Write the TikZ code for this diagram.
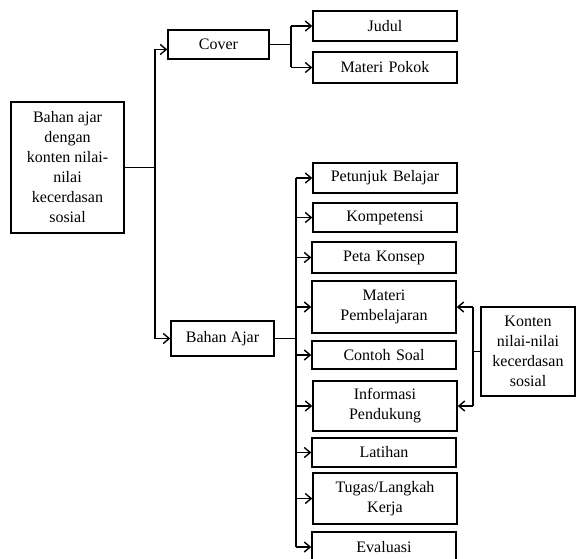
\documentclass[tikz,border=0pt]{standalone}
\usepackage{fontspec}
\setmainfont{Liberation Serif}
\usetikzlibrary{arrows.meta}
\tikzset{
  box/.style={draw, line width=1.4pt, align=center, inner sep=2pt,
    font=\fontsize{16}{20}\selectfont},
  item/.style={box, minimum width=144pt, text width=136pt},
  wire/.style={line width=1.4pt},
  link/.style={wire, -{Straight Barb[length=6pt,width=10pt]}},
}

\begin{document}
\begin{tikzpicture}[x=1pt,y=-1pt]
  \useasboundingbox (0,0) rectangle (576,559);
  % left part
  \node[box, minimum width=113pt, minimum height=131pt] (bahan) at (67.5,167.5)
    {Bahan ajar\\dengan\\konten nilai-\\nilai\\kecerdasan\\sosial};
  \node[box, minimum width=101pt, minimum height=29pt] (cover) at (218.5,44.5) {Cover};
  \node[box, minimum width=103pt, minimum height=35pt] (ajar) at (222.5,338.5) {Bahan Ajar};
  % cover part
  \node[item, minimum height=30pt] (judul) at (385,26) {Judul};
  \node[item, minimum height=31pt] (pokok) at (385,67.5) {Materi Pokok};
  % bahan ajar part
  \node[item, minimum height=30pt] (petunjuk) at (385,178) {Petunjuk Belajar};
  \node[item, minimum height=29pt] (kompetensi) at (385,217.5) {Kompetensi};
  \node[item, minimum height=31pt] (peta) at (384,257.5) {Peta Konsep};
  \node[item, minimum height=52pt] (materi) at (384,307) {Materi\\Pembelajaran};
  \node[item, minimum height=28pt] (contoh) at (384,355) {Contoh Soal};
  \node[item, minimum height=50pt] (info) at (385,406) {Informasi\\Pendukung};
  \node[item, minimum height=29pt] (latihan) at (384,452.5) {Latihan};
  \node[item, minimum height=51pt] (tugas) at (385,498.5) {Tugas/Langkah\\Kerja};
  \node[item, minimum height=30pt] (evaluasi) at (384,547) {Evaluasi};
  \node[box, minimum width=94pt, minimum height=89pt] (konten) at (528,351.5)
    {Konten\\nilai-nilai\\kecerdasan\\sosial};

  \coordinate (s1) at (155,0);
  \coordinate (s2) at (291,0);
  \coordinate (s3) at (296,0);
  \coordinate (s4) at (473,0);

  \draw[wire] (bahan.east) -- (bahan.east -| s1);
  \draw[wire] ([yshift=-5pt]s1 |- cover.west) -- (s1 |- ajar.west);
  \draw[link] ([yshift=-5pt]s1 |- cover.west) -- ([yshift=-5pt]cover.west);
  \draw[link] (s1 |- ajar.west) -- (ajar.west);

  \draw[wire] (cover.east) -- (cover.east -| s2);
  \draw[wire] (s2 |- judul.west) -- (s2 |- pokok.west);
  \foreach \n in {judul,pokok}
    \draw[link] (s2 |- \n.west) -- (\n.west);

  \draw[wire] (ajar.east) -- (ajar.east -| s3);
  \draw[wire] (s3 |- petunjuk.west) -- (s3 |- evaluasi.west);
  \foreach \n in {petunjuk,kompetensi,peta,materi,contoh,info,latihan,tugas,evaluasi}
    \draw[link] (s3 |- \n.west) -- (\n.west);

  \draw[wire] (konten.west) -- (konten.west -| s4);
  \draw[wire] (s4 |- materi.east) -- (s4 |- info.east);
  \foreach \n in {materi,info}
    \draw[link] (s4 |- \n.east) -- (\n.east);
\end{tikzpicture}
\end{document}
